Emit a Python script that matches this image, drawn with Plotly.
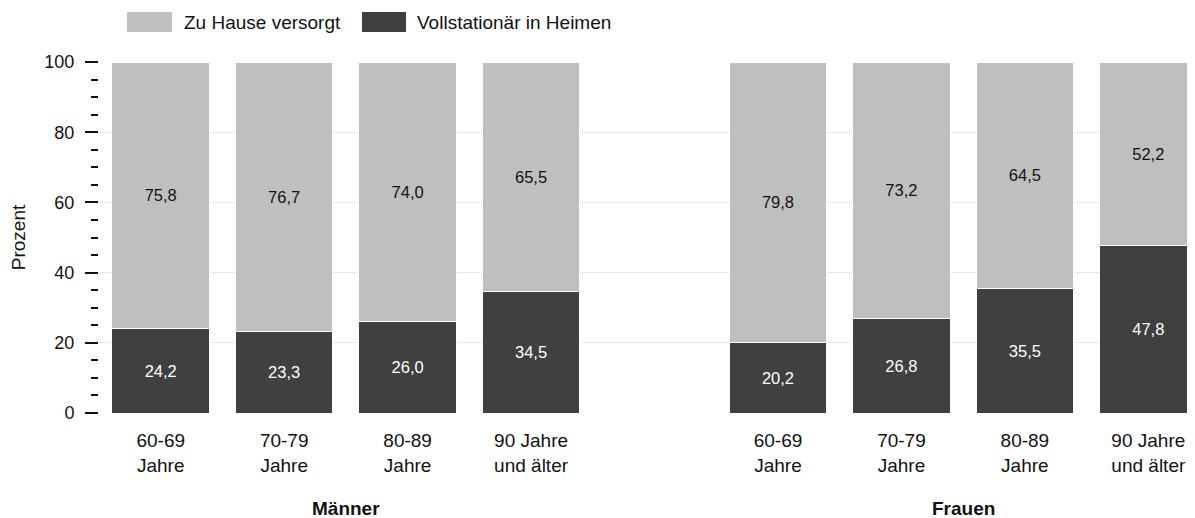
import plotly.graph_objects as go

# ---- data ----
age_groups = ["60-69<br>Jahre", "70-79<br>Jahre", "80-89<br>Jahre", "90 Jahre<br>und älter"]
sexes = ["Männer", "Frauen"]
zu_hause = [75.8, 76.7, 74.0, 65.5, 79.8, 73.2, 64.5, 52.2]
heim = [24.2, 23.3, 26.0, 34.5, 20.2, 26.8, 35.5, 47.8]
series_names = ["Zu Hause versorgt", "Vollstationär in Heimen"]
y_ticks = [0, 20, 40, 60, 80, 100]

# ---- layout constants (window pixels; page body has an 8px margin) ----
OFF = 8
WIN_W, WIN_H = 1195, 518
W, H = WIN_W - OFF, WIN_H - OFF
PLOT_L, PLOT_T, PLOT_B = 99, 62, 413      # window pixels
L, T = PLOT_L - OFF, PLOT_T - OFF
B = H - (PLOT_B - OFF)
R = 0
PW, PH = W - L - R, H - T - B
FONT = "Liberation Sans, Arial, sans-serif"
LIGHT, DARK = "#bfbfbf", "#404040"
TXT = "#111111"
FS = 19

x, ticktext = [], []
group_centers = []
for g, s in enumerate(sexes):
    pos = [g * (len(age_groups) + 1) + i for i in range(len(age_groups))]
    x += pos
    ticktext += age_groups
    group_centers.append(sum(pos) / len(pos))

fig = go.Figure()
fig.add_trace(go.Bar(
    x=x, y=heim, name=series_names[1], width=0.79,
    marker=dict(color=DARK, line=dict(color="white", width=1)),
    texttemplate="%{y:.1f}", textposition="inside", insidetextanchor="middle",
    textangle=0, textfont=dict(color="white", size=16.5, family=FONT),
    showlegend=False,
))
fig.add_trace(go.Bar(
    x=x, y=zu_hause, name=series_names[0], width=0.79,
    marker=dict(color=LIGHT, line=dict(color="white", width=1)),
    texttemplate="%{y:.1f}", textposition="inside", insidetextanchor="middle",
    textangle=0, textfont=dict(color=TXT, size=16.5, family=FONT),
    showlegend=False,
))

def px2x(px):
    return (px - OFF - L) / PW

def py2y(py):
    return (PLOT_B - py) / PH

shapes = []
annotations = []
legend_items = [
    (series_names[0], LIGHT, 127, 172, 182),
    (series_names[1], DARK, 362, 406, 415),
]
for name, col, x0, x1, tx in legend_items:
    shapes.append(dict(type="rect", xref="paper", yref="paper",
                       x0=px2x(x0), x1=px2x(x1), y0=py2y(32), y1=py2y(12),
                       fillcolor=col, line=dict(width=0), layer="above"))
    annotations.append(dict(text=name, xref="paper", yref="paper",
                            x=px2x(tx), y=py2y(22), xanchor="left", yanchor="middle",
                            showarrow=False, font=dict(size=FS, family=FONT, color=TXT)))

for s, c in zip(sexes, group_centers):
    annotations.append(dict(text=f"<b>{s}</b>", xref="x", yref="paper",
                            x=c, y=py2y(508), xanchor="center", yanchor="middle",
                            showarrow=False, font=dict(size=FS, family=FONT, color=TXT)))

fig.update_layout(
    width=W, height=H,
    margin=dict(l=L, r=R, t=T, b=B, pad=0),
    barmode="stack",
    separators=",.",
    plot_bgcolor="white", paper_bgcolor="white",
    font=dict(family=FONT, size=FS, color=TXT),
    shapes=shapes, annotations=annotations,
    showlegend=False,
    xaxis=dict(
        range=[-0.5, -0.5 + (WIN_W - PLOT_L) / 123.45],
        tickmode="array", tickvals=x, ticktext=ticktext,
        ticks="", showgrid=False, zeroline=False, showline=False,
        tickfont=dict(size=FS, family=FONT, color=TXT),
        ticklabelstandoff=14,
    ),
    yaxis=dict(
        range=[0, 100], tickmode="array", tickvals=y_ticks,
        ticks="outside", ticklen=13, tickwidth=2, tickcolor=TXT,
        minor=dict(ticks="outside", ticklen=7, tickwidth=2, tickcolor=TXT,
                   dtick=5, tick0=0, showgrid=False),
        showgrid=True, gridcolor="#e6e6e6", gridwidth=1,
        zeroline=False, showline=False,
        tickfont=dict(size=18, family=FONT, color=TXT),
        ticklabelstandoff=7,
        title=dict(text="Prozent", standoff=16, font=dict(size=FS, family=FONT, color=TXT)),
    ),
)

fig.write_html("out.html")
